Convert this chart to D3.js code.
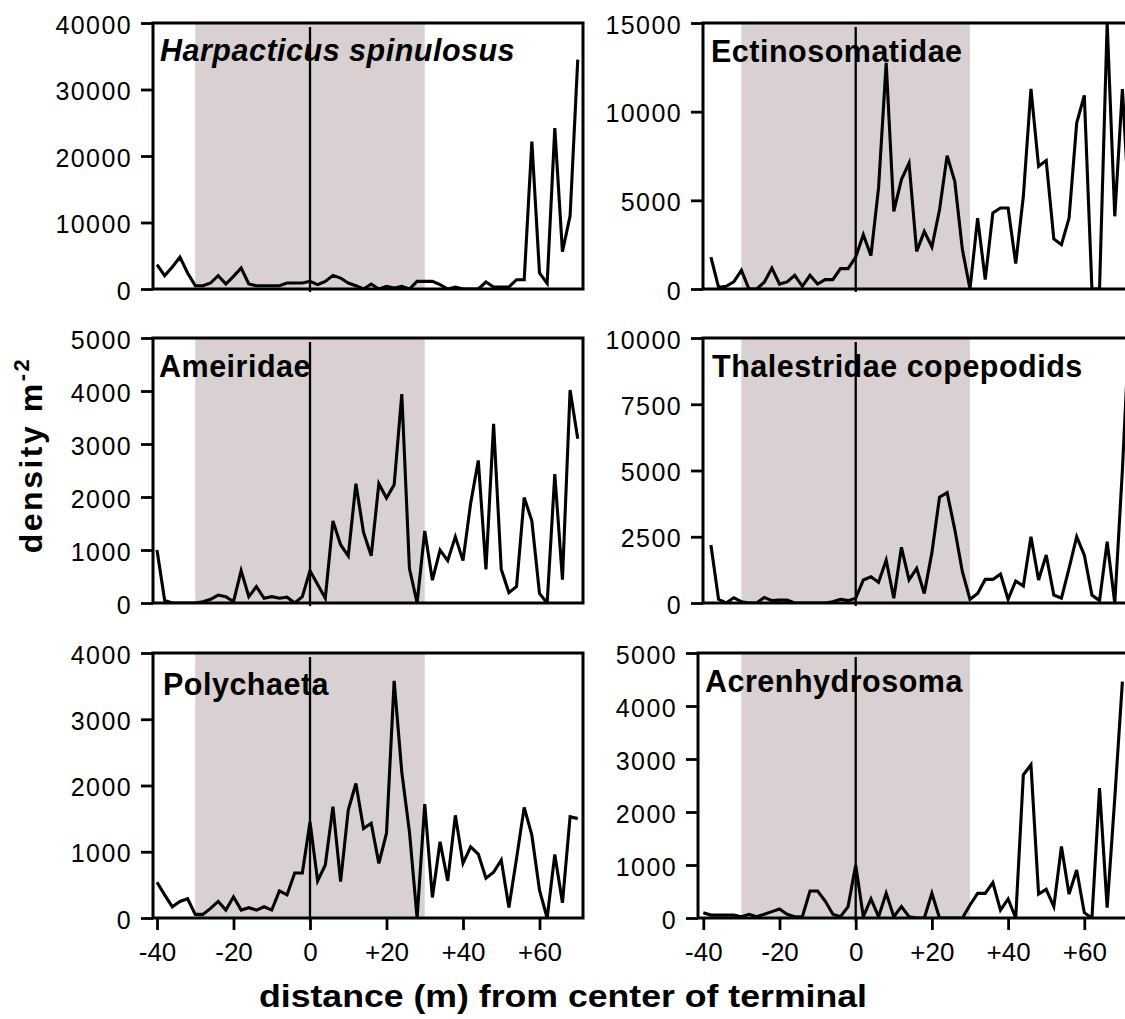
<!DOCTYPE html>
<html><head><meta charset="utf-8">
<script src="https://cdn.jsdelivr.net/npm/d3@7/dist/d3.min.js"></script>
<style>body{margin:0;background:#fff}svg{display:block}</style>
</head><body><svg id="c" width="1125" height="1019"></svg>
<script>
// distances (m) from center of terminal
const distA = [-40,-38,-36,-34,-32,-30,-28,-26,-24,-22,-20,-18,-16,-14,-12,-10,-8,-6,-4,-2,0,2,4,6,8,10,12,14,16,18,20,22,24,26,28,30,32,34,36,38,40,42,44,46,48,50,52,54,56,58,60,62,64,66,68,70];
const distB = [-38,-36,-34,-32,-30,-28,-26,-24,-22,-20,-18,-16,-14,-12,-10,-8,-6,-4,-2,0,2,4,6,8,10,12,14,16,18,20,22,24,26,28,30,32,34,36,38,40,42,44,46,48,50,52,54,56,58,60,62,64,66,68,70,72];

const harpacticus = [3650,2000,3300,4800,2400,500,500,900,2000,750,1900,3150,750,500,500,500,500,900,900,900,1150,650,1150,2050,1650,900,500,0,750,0,400,150,400,0,1150,1150,1150,650,0,300,0,0,0,1050,300,300,300,1400,1400,22150,2400,850,24200,5600,11000,34500];
const ectinosomatidae = [1800,100,150,400,1050,0,0,380,1180,280,400,770,150,770,280,530,530,1150,1150,1800,3060,1880,5700,12750,4380,6170,7100,2120,3250,2370,4470,7520,6070,2220,0,4000,530,4290,4570,4570,1430,5230,11280,6920,7240,2820,2500,4000,9360,10920,0,0,15000,4100,11280,3600];
const ameiridae = [1000,50,0,0,0,0,25,70,150,120,25,610,120,310,90,120,90,110,0,120,610,350,90,1550,1100,890,2250,1330,890,2250,1980,2230,3940,650,0,1360,430,1000,800,1250,800,1880,2690,635,3380,635,195,310,1990,1550,180,0,2430,440,4020,3100];
const thalestridae = [2190,140,0,200,50,0,0,210,90,110,110,0,0,0,0,0,50,140,90,180,870,990,780,1620,180,2100,870,1310,360,1900,3990,4160,2780,1180,140,360,890,890,1090,140,830,640,2500,870,1810,300,180,1310,2500,1810,300,90,2310,0,5020,11000];
const polychaeta = [540,350,170,250,290,55,55,145,250,120,320,120,155,120,170,120,410,350,680,680,1450,560,800,1680,550,1630,2030,1350,1430,825,1280,3580,2200,1300,0,1720,310,1150,560,1550,825,1075,965,600,690,875,160,900,1670,1250,420,0,960,230,1530,1500];
const acrenhydrosoma = [100,55,55,55,55,25,70,25,70,120,170,70,25,25,510,510,320,70,25,215,1000,25,360,25,465,25,215,25,0,0,465,0,0,0,0,245,465,465,670,150,360,0,2700,2890,450,540,215,1350,450,905,100,0,2450,195,2260,4460];

const titles = ["Harpacticus spinulosus","Ectinosomatidae","Ameiridae","Thalestridae copepodids","Polychaeta","Acrenhydrosoma"];
const yTicks1 = [0,10000,20000,30000,40000];
const yTicks2 = [0,5000,10000,15000];
const yTicks3 = [0,1000,2000,3000,4000,5000];
const yTicks4 = [0,2500,5000,7500,10000];
const yTicks5 = [0,1000,2000,3000,4000];
const yTicks6 = [0,1000,2000,3000,4000,5000];
const xTicks = [-40,-20,0,20,40,60];
const xTickLabels = ["-40","-20","0","+20","+40","+60"];
const shadeRange = [-30,30];
const xLabel = "distance (m) from center of terminal";
const yLabel = "density m";
const yLabelSup = "-2";

// layout (not data)
const rowTop = [23,338,653], rowBottom = [289,603,918];
const colRange = [[157,310],[703.3,855.7]];
const colRight = [583,1129];
const panels = [
  {t:0, vals:harpacticus, dist:distA, yt:yTicks1, row:0, col:0, left:153, italic:true, tdx:7, tdy:38},
  {t:1, vals:ectinosomatidae, dist:distB, yt:yTicks2, row:0, col:1, left:703, tdx:8, tdy:39},
  {t:2, vals:ameiridae, dist:distA, yt:yTicks3, row:1, col:0, left:153, tdx:6, tdy:39},
  {t:3, vals:thalestridae, dist:distB, yt:yTicks4, row:1, col:1, left:703, tdx:9, tdy:39},
  {t:4, vals:polychaeta, dist:distA, yt:yTicks5, row:2, col:0, left:153, tdx:10, tdy:42},
  {t:5, vals:acrenhydrosoma, dist:distA, yt:yTicks6, row:2, col:1, left:698, tdx:7, tdy:39}
];

const svg = d3.select('#c');
const FONT = "'Liberation Sans', Arial, Helvetica, sans-serif";

panels.forEach((p,i)=>{
  const top = rowTop[p.row], bottom = rowBottom[p.row];
  const left = p.left, right = colRight[p.col];
  const x = d3.scaleLinear().domain([-40,0]).range(colRange[p.col]);
  const y = d3.scaleLinear().domain([0, d3.max(p.yt)]).range([bottom, top]);
  const g = svg.append('g');
  const cid = 'clip'+i;
  g.append('clipPath').attr('id',cid).append('rect')
    .attr('x',left).attr('y',top-1).attr('width',right-left).attr('height',bottom-top+2);
  g.append('rect').attr('x',x(shadeRange[0])).attr('y',top)
    .attr('width',x(shadeRange[1])-x(shadeRange[0])).attr('height',bottom-top)
    .attr('fill','#d8d0d1');
  g.append('text').attr('x',left+p.tdx).attr('y',top+p.tdy)
    .attr('font-family',FONT).attr('font-size',30.5).attr('font-weight','bold')
    .attr('font-style',p.italic?'italic':'normal').attr('letter-spacing',0.5)
    .attr('fill','#000').text(titles[p.t]);
  g.append('line').attr('x1',x(0)).attr('x2',x(0)).attr('y1',top+4).attr('y2',bottom+3)
    .attr('stroke','#000').attr('stroke-width',2.3);
  const line = d3.line().x((d,k)=>x(p.dist[k])).y(d=>y(d));
  g.append('path').datum(p.vals).attr('d',line).attr('fill','none')
    .attr('stroke','#000').attr('stroke-width',3.1).attr('stroke-linejoin','miter')
    .attr('clip-path',`url(#${cid})`);
  g.append('rect').attr('x',left).attr('y',top).attr('width',right-left).attr('height',bottom-top)
    .attr('fill','none').attr('stroke','#000').attr('stroke-width',3);
  const ya = g.append('g').attr('transform',`translate(${left},0)`)
    .call(d3.axisLeft(y).tickValues(p.yt).tickSize(12).tickPadding(9).tickFormat(d3.format('d')));
  ya.select('.domain').remove();
  ya.selectAll('line').attr('stroke','#000').attr('stroke-width',2.8);
  ya.selectAll('text').attr('font-family',FONT).attr('font-size',25).attr('letter-spacing',1.4)
    .attr('fill','#000').attr('dy','0.4em');
  if (p.row===2){
    const xa = g.append('g').attr('transform',`translate(0,${bottom})`)
      .call(d3.axisBottom(x).tickValues(xTicks).tickSize(12).tickPadding(13)
        .tickFormat((d,k)=>xTickLabels[k]));
    xa.select('.domain').remove();
    xa.selectAll('line').attr('stroke','#000').attr('stroke-width',2.8);
    xa.selectAll('text').attr('font-family',FONT).attr('font-size',26).attr('fill','#000');
  }
});

svg.append('text').attr('x',563).attr('y',1007).attr('text-anchor','middle')
  .attr('font-family',FONT).attr('font-size',32).attr('font-weight','bold').attr('fill','#000')
  .attr('textLength',608).attr('lengthAdjust','spacingAndGlyphs')
  .text(xLabel);
const yt = svg.append('text').attr('transform','translate(42,455) rotate(-90)').attr('text-anchor','middle')
  .attr('font-family',FONT).attr('font-size',32).attr('font-weight','bold').attr('fill','#000')
  .attr('letter-spacing',2.5);
yt.append('tspan').text(yLabel);
yt.append('tspan').attr('dy',-13).attr('font-size',22).text(yLabelSup);
</script></body></html>
